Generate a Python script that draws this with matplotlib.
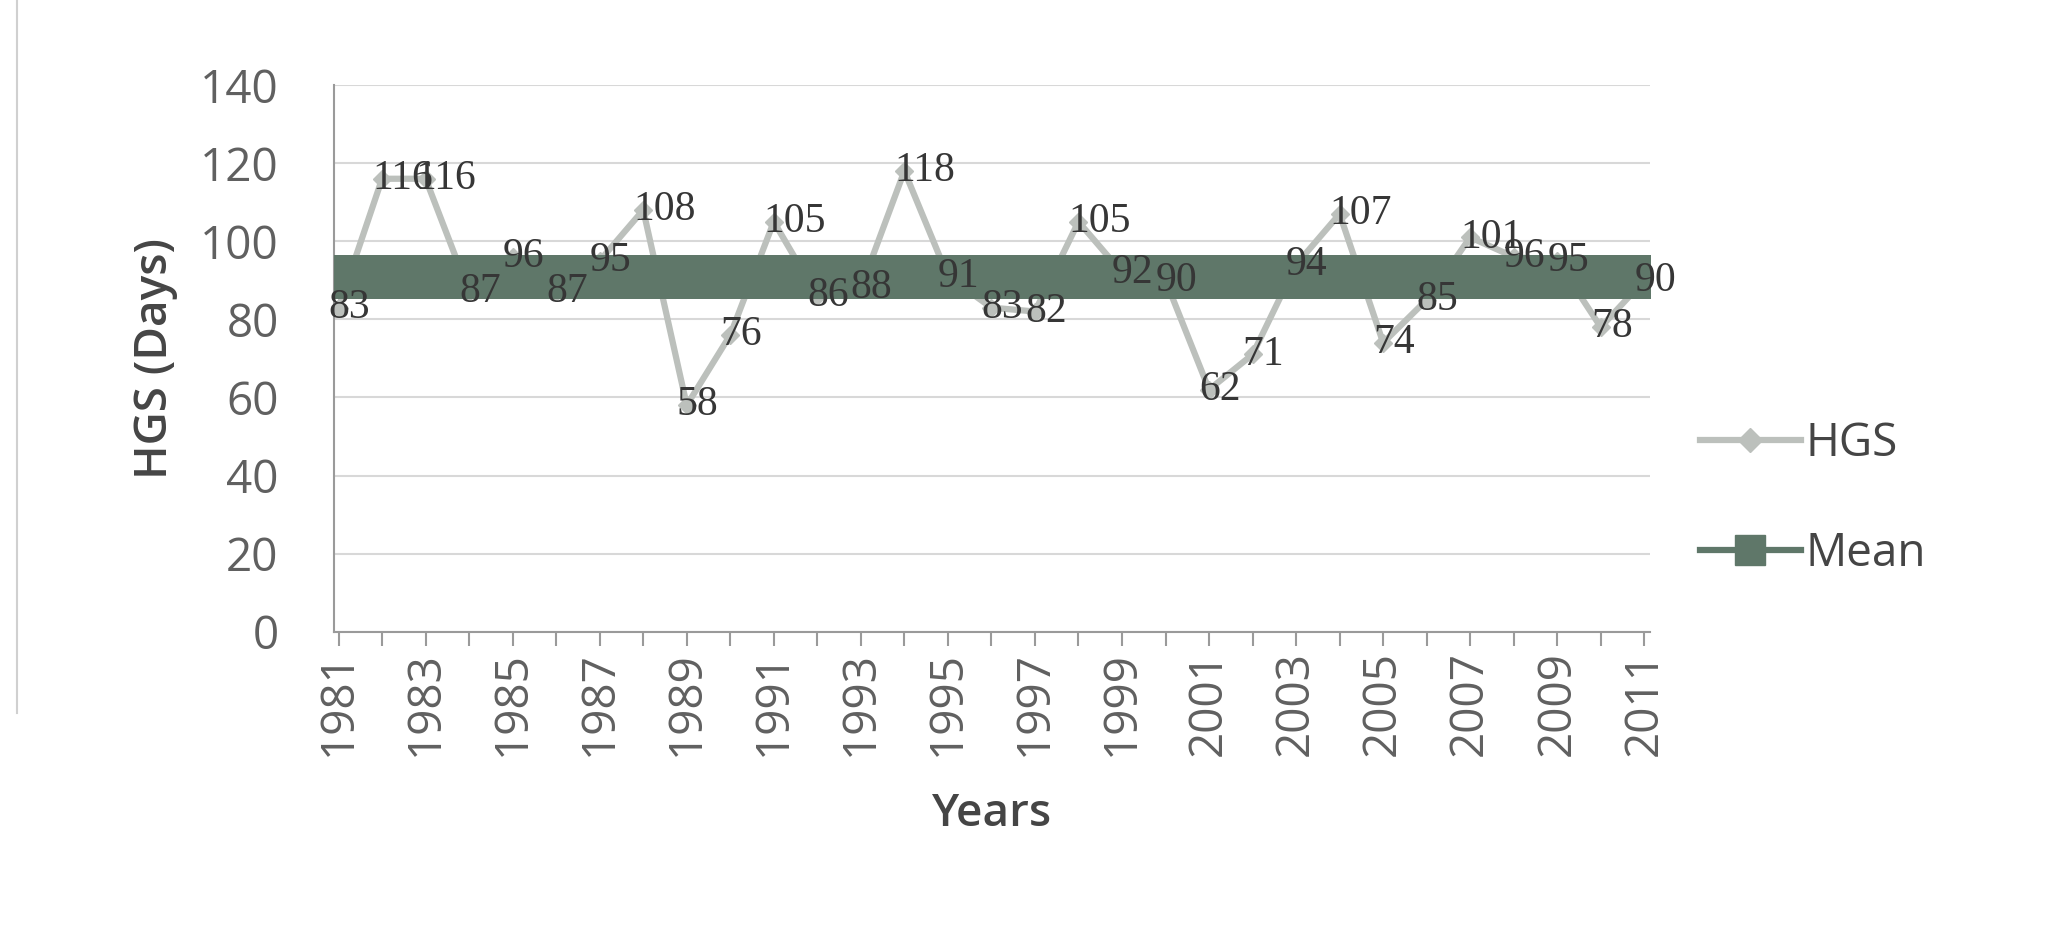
import numpy as np
import matplotlib.pyplot as plt
from matplotlib.lines import Line2D

# values
years = list(range(1981, 2012))
hgs = [83, 116, 116, 87, 96, 87, 95, 108, 58, 76, 105, 86, 88, 118, 91, 83,
       82, 105, 92, 90, 62, 71, 94, 107, 74, 85, 101, 96, 95, 78, 90]
mean_hgs = 90.8
mean_line = [mean_hgs] * len(years)

y_ticks = [0, 20, 40, 60, 80, 100, 120, 140]
x_ticks = years[::2]

hgs_color = "#bcc0bc"
mean_color = "#5f7769"
text_color = "#454545"

fig = plt.figure(figsize=(20.63, 9.5), dpi=100)
ax = fig.add_axes([0.162, 0.335, 0.638, 0.5755])

# mean: a row of big square markers that merge into one band
ax.plot(years, mean_line, color=mean_color, lw=4, marker="s", ms=32,
        mec=mean_color, mfc=mean_color, mew=0, zorder=3)
ax.plot(years, hgs, color=hgs_color, lw=4.5, marker="D", ms=9,
        mec=hgs_color, mfc=hgs_color, zorder=2)

for x, v in zip(years, hgs):
    ax.annotate(str(v), (x, v), xytext=(-10, 0), textcoords="offset pixels",
                ha="left", va="center", fontfamily="Liberation Serif",
                fontsize=30, color="#363636", zorder=5, annotation_clip=False)

ax.set_xlim(1980.9, 2011.14)
ax.set_ylim(0, 140)
ax.set_yticks(y_ticks)
ax.set_xticks(x_ticks)
ax.set_xticks(years, minor=True)
ax.set_xticklabels([str(y) for y in x_ticks], rotation=90)

for lab in ax.get_xticklabels() + ax.get_yticklabels():
    lab.set_fontfamily("Open Sans")
    lab.set_fontsize(33)
    lab.set_color("#606060")

ax.grid(axis="y", color="#d8d8d8", lw=1.5)
ax.set_axisbelow(True)
for s in ["top", "right"]:
    ax.spines[s].set_visible(False)
for s in ["left", "bottom"]:
    ax.spines[s].set_color("#9a9a9a")
    ax.spines[s].set_linewidth(1.5)
ax.tick_params(axis="y", length=0, pad=40)
ax.tick_params(axis="x", which="both", length=10, color="#9a9a9a", width=1.5, pad=4)

ax.set_xlabel("Years", fontfamily="Open Sans", fontsize=33, fontweight="semibold",
              color=text_color, labelpad=26)
ax.set_ylabel("HGS (Days)", fontfamily="Open Sans", fontsize=33, fontweight="semibold",
              color=text_color, labelpad=16)

handles = [
    Line2D([], [], color=hgs_color, lw=4.5, marker="D", ms=12, mec=hgs_color, mfc=hgs_color),
    Line2D([], [], color=mean_color, lw=4.5, marker="s", ms=22, mec=mean_color, mfc=mean_color),
]
leg = fig.legend(handles, ["HGS", "Mean"], loc="center left",
                 bbox_to_anchor=(0.804, 0.475), frameon=False, handlelength=2.2,
                 handletextpad=0.1, labelspacing=1.4,
                 prop={"family": "Open Sans", "size": 33})
for t in leg.get_texts():
    t.set_color(text_color)

# faint border of the scanned chart box
fig.add_artist(Line2D([0.008, 0.008], [0.25, 1.0], color="#d0d0d0", lw=1.5))

fig.savefig("out.png", dpi=100)
